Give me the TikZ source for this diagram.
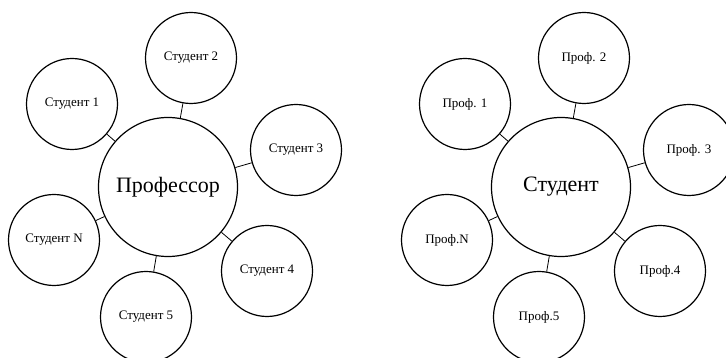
\documentclass[tikz,border=0pt]{standalone}
\usepackage{fontspec}
\setmainfont{Liberation Serif}

\begin{document}
\begin{tikzpicture}[x=1pt,y=1pt,
        big/.style={circle,draw,line width=1.2pt,minimum size=139pt,inner sep=0pt,font=\fontsize{22}{26}\selectfont},
        small/.style={circle,draw,line width=1.2pt,minimum size=91pt,inner sep=0pt,font=\fontsize{13}{15}\selectfont},
        link/.style={line width=0.8pt}]
        \useasboundingbox (0,0) rectangle (726,358);
        % left: one professor, many students
        \begin{scope}[shift={(168,171)}]
            \node[big] (prof) at (0,0) {Профессор};
            \foreach \n/\x/\y/\t in {1/-96/83/Студент 1, 2/23/129/Студент 2, 3/128/37/Студент 3,
                    4/99/-84/Студент 4, 5/-22/-130/Студент 5, N/-114/-53/Студент N}{
                \node[small] (st\n) at (\x,\y) {\t};
                \draw[link] (prof) -- (st\n);
            }
        \end{scope}
        % right: one student, many professors
        \begin{scope}[shift={(561,171)}]
            \node[big] (stud) at (0,0) {Студент};
            \foreach \n/\x/\y/\t in {1/-96/83/Проф. 1, 2/23/129/Проф. 2, 3/128/37/Проф. 3,
                    4/99/-84/Проф.4, 5/-22/-130/Проф.5, N/-114/-53/Проф.N}{
                \node[small] (pr\n) at (\x,\y) {\t};
                \draw[link] (stud) -- (pr\n);
            }
        \end{scope}
    \end{tikzpicture}
\end{document}
